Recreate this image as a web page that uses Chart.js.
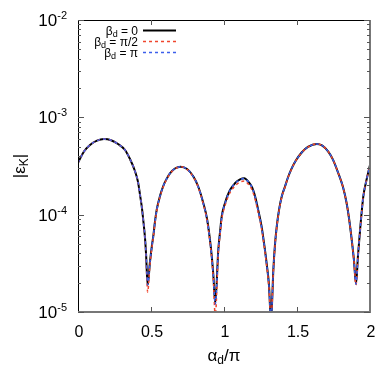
<!DOCTYPE html>
<html>
<head>
<meta charset="utf-8">
<script src="https://cdn.jsdelivr.net/npm/chart.js@4"></script>
<style>
  html, body { margin: 0; padding: 0; background: #fff; }
  #wrap { width: 382px; height: 366px; }
</style>
</head>
<body>
<div id="wrap"><canvas id="epsK" width="382" height="366"></canvas></div>
<script>
// alpha_d / pi sample positions
const alpha = [0.000, 0.041, 0.082, 0.130, 0.178, 0.226, 0.274, 0.322, 0.356, 0.390,
  0.411, 0.425, 0.438, 0.447, 0.459, 0.466, 0.477, 0.493, 0.507, 0.516,
  0.527, 0.539, 0.562, 0.584, 0.606, 0.630, 0.664, 0.703, 0.747, 0.790,
  0.822, 0.858, 0.884, 0.904, 0.918, 0.927, 0.940, 0.961, 0.973, 0.984,
  1.007, 1.041, 1.075, 1.110, 1.139, 1.171, 1.192, 1.212, 1.233, 1.258,
  1.274, 1.292, 1.308, 1.322, 1.338, 1.349, 1.361, 1.377, 1.395, 1.418,
  1.438, 1.459, 1.486, 1.532, 1.575, 1.635, 1.671, 1.714, 1.747, 1.783,
  1.815, 1.840, 1.856, 1.875, 1.890, 1.904, 1.918, 1.932, 1.954, 1.976,
  2.000];

// |eps_K| for beta_d = 0
const beta0 = [3.42e-4, 4.45e-4, 5.2e-4, 5.76e-4, 5.98e-4, 5.82e-4, 5.32e-4, 4.62e-4, 3.73e-4, 2.81e-4,
  2.17e-4, 1.59e-4, 1.17e-4, 8.81e-5, 5.75e-5, 3.97e-5, 1.89e-5, 3.27e-5, 4.88e-5, 6.04e-5,
  8.41e-5, 1.12e-4, 1.56e-4, 1.97e-4, 2.32e-4, 2.66e-4, 2.98e-4, 3.11e-4, 2.94e-4, 2.47e-4,
  1.97e-4, 1.32e-4, 9.02e-5, 5.5e-5, 3.5e-5, 2.4e-5, 1.23e-5, 4.34e-5, 6.64e-5, 9.5e-5,
  1.32e-4, 1.79e-4, 2.10e-4, 2.30e-4, 2.36e-4, 2.14e-4, 1.92e-4, 1.56e-4, 1.14e-4, 7.5e-5,
  5.12e-5, 3.16e-5, 1.89e-5, 8e-6, 2.70e-5, 4.88e-5, 7.5e-5, 1.12e-4, 1.53e-4, 1.95e-4,
  2.41e-4, 2.88e-4, 3.48e-4, 4.35e-4, 4.96e-4, 5.32e-4, 5.14e-4, 4.44e-4, 3.65e-4, 2.66e-4,
  1.92e-4, 1.31e-4, 9.24e-5, 5.5e-5, 3.42e-5, 1.94e-5, 3.85e-5, 6.95e-5, 1.53e-4, 2.27e-4,
  3.24e-4];

// beta_d = pi/2
const betaHalfPi = [3.42e-4, 4.45e-4, 5.2e-4, 5.76e-4, 5.98e-4, 5.82e-4, 5.32e-4, 4.62e-4, 3.73e-4, 2.81e-4,
  2.17e-4, 1.59e-4, 1.17e-4, 8.8e-5, 5.6e-5, 3.8e-5, 1.6e-5, 3.1e-5, 4.7e-5, 5.85e-5,
  8.2e-5, 1.09e-4, 1.53e-4, 1.94e-4, 2.29e-4, 2.63e-4, 2.96e-4, 3.1e-4, 2.92e-4, 2.44e-4,
  1.94e-4, 1.29e-4, 8.7e-5, 5.25e-5, 3.3e-5, 2.2e-5, 9e-6, 4.1e-5, 6.2e-5, 8.9e-5,
  1.24e-4, 1.68e-4, 1.97e-4, 2.16e-4, 2.22e-4, 2.02e-4, 1.80e-4, 1.46e-4, 1.07e-4, 7.1e-5,
  4.9e-5, 3.0e-5, 1.8e-5, 8e-6, 2.6e-5, 4.75e-5, 7.3e-5, 1.1e-4, 1.5e-4, 1.93e-4,
  2.39e-4, 2.86e-4, 3.46e-4, 4.34e-4, 4.95e-4, 5.32e-4, 5.14e-4, 4.44e-4, 3.65e-4, 2.66e-4,
  1.92e-4, 1.31e-4, 9.2e-5, 5.45e-5, 3.4e-5, 1.9e-5, 3.8e-5, 6.9e-5, 1.52e-4, 2.26e-4,
  3.22e-4];

// beta_d = pi
const betaPi = [3.42e-4, 4.45e-4, 5.2e-4, 5.76e-4, 5.98e-4, 5.82e-4, 5.32e-4, 4.62e-4, 3.73e-4, 2.81e-4,
  2.17e-4, 1.59e-4, 1.17e-4, 8.81e-5, 5.75e-5, 3.97e-5, 1.9e-5, 3.27e-5, 4.88e-5, 6.04e-5,
  8.41e-5, 1.12e-4, 1.56e-4, 1.97e-4, 2.32e-4, 2.66e-4, 2.98e-4, 3.11e-4, 2.94e-4, 2.46e-4,
  1.96e-4, 1.31e-4, 8.9e-5, 5.4e-5, 3.45e-5, 2.35e-5, 1.2e-5, 4.3e-5, 6.6e-5, 9.4e-5,
  1.31e-4, 1.78e-4, 2.09e-4, 2.29e-4, 2.35e-4, 2.13e-4, 1.91e-4, 1.55e-4, 1.13e-4, 7.4e-5,
  5.1e-5, 3.1e-5, 1.87e-5, 8e-6, 2.70e-5, 4.88e-5, 7.5e-5, 1.12e-4, 1.53e-4, 1.95e-4,
  2.41e-4, 2.88e-4, 3.48e-4, 4.35e-4, 4.96e-4, 5.32e-4, 5.14e-4, 4.44e-4, 3.65e-4, 2.66e-4,
  1.92e-4, 1.31e-4, 9.24e-5, 5.5e-5, 3.42e-5, 1.94e-5, 3.85e-5, 6.95e-5, 1.53e-4, 2.27e-4,
  3.24e-4];

const xTicks = [0, 0.5, 1, 1.5, 2];
const xTickLabels = ['0', '0.5', '1', '1.5', '2'];
const yDecades = [-5, -4, -3, -2];

const legendItems = [
  { name: 'β', sub: 'd', rest: ' = 0', color: '#000', dash: [] },
  { name: 'β', sub: 'd', rest: ' = π/2', color: 'rgb(240,70,45)', dash: [3, 3] },
  { name: 'β', sub: 'd', rest: ' = π', color: 'rgb(60,95,235)', dash: [3, 3] }
];

const FONT = '"Liberation Sans", Arial, Helvetica, sans-serif';

function pts(ys) {
  return alpha.map((a, i) => ({ x: a, y: ys[i] }));
}

const framePlugin = {
  id: 'frame',
  afterDatasetsDraw(chart) {
    const ctx = chart.ctx;
    const a = chart.chartArea;
    const xs = chart.scales.x, ys = chart.scales.y;
    ctx.save();

    // frame
    ctx.strokeStyle = '#000';
    ctx.lineWidth = 1;
    ctx.beginPath();
    ctx.moveTo(a.left + 0.5, a.bottom);
    ctx.lineTo(a.left + 0.5, a.top + 0.5);
    ctx.lineTo(a.right, a.top + 0.5);
    ctx.stroke();
    ctx.strokeStyle = '#777';
    ctx.lineWidth = 2;
    ctx.beginPath();
    ctx.moveTo(a.left, a.bottom);
    ctx.lineTo(a.right, a.bottom);
    ctx.lineTo(a.right, a.top);
    ctx.stroke();

    // x ticks (inward, bottom and top)
    ctx.strokeStyle = '#555';
    ctx.lineWidth = 1;
    ctx.beginPath();
    xTicks.forEach(v => {
      const px = Math.round(xs.getPixelForValue(v)) + 0.5;
      if (v > 0 && v < 2) {
        ctx.moveTo(px, a.bottom); ctx.lineTo(px, a.bottom - 5);
        ctx.moveTo(px, a.top); ctx.lineTo(px, a.top + 5);
      }
    });
    // y ticks (log, major + minor, left and right)
    yDecades.forEach(d => {
      for (let m = 1; m <= 9; m++) {
        const v = m * Math.pow(10, d);
        if (v > 1e-2 * 1.0001) continue;
        const py = Math.round(ys.getPixelForValue(v)) + 0.5;
        const len = m === 1 ? 6 : 3;
        ctx.moveTo(a.left, py); ctx.lineTo(a.left + len, py);
        ctx.moveTo(a.right, py); ctx.lineTo(a.right - len, py);
      }
    });
    ctx.stroke();

    // x tick labels
    ctx.fillStyle = '#000';
    ctx.font = '16px ' + FONT;
    ctx.textAlign = 'center';
    ctx.textBaseline = 'alphabetic';
    xTicks.forEach((v, i) => {
      ctx.fillText(xTickLabels[i], xs.getPixelForValue(v) + 1, a.bottom + 25);
    });

    // y tick labels 10^n
    yDecades.forEach(d => {
      const py = ys.getPixelForValue(Math.pow(10, d));
      const exp = String(d);
      ctx.font = '11px ' + FONT;
      const ew = ctx.measureText(exp).width;
      ctx.textAlign = 'right';
      ctx.fillText(exp, 67, py - 1);
      ctx.font = '17px ' + FONT;
      ctx.fillText('10', 67 - ew, py + 6);
    });

    // x title alpha_d/pi
    ctx.textAlign = 'left';
    ctx.font = '17px ' + FONT;
    const wA = ctx.measureText('α').width;
    ctx.font = '12px ' + FONT;
    const wD = ctx.measureText('d').width;
    ctx.font = '17px ' + FONT;
    const wP = ctx.measureText('/π').width;
    let tx = (a.left + a.right) / 2 - (wA + wD + wP) / 2;
    ctx.fillText('α', tx, 361);
    ctx.font = '12px ' + FONT;
    ctx.fillText('d', tx + wA, 364);
    ctx.font = '17px ' + FONT;
    ctx.fillText('/π', tx + wA + wD, 361);

    // y title |eps_K|
    ctx.save();
    ctx.translate(25, (a.top + a.bottom) / 2);
    ctx.rotate(-Math.PI / 2);
    ctx.font = '17px ' + FONT;
    const w1 = ctx.measureText('|ε').width;
    ctx.font = '12px ' + FONT;
    const w2 = ctx.measureText('K').width;
    ctx.font = '17px ' + FONT;
    const w3 = ctx.measureText('|').width;
    let ty = -(w1 + w2 + w3) / 2;
    ctx.fillText('|ε', ty, 0);
    ctx.font = '12px ' + FONT;
    ctx.fillText('K', ty + w1, 3);
    ctx.font = '17px ' + FONT;
    ctx.fillText('|', ty + w1 + w2, 0);
    ctx.restore();

    // legend
    legendItems.forEach((it, i) => {
      const ly = 30.5 + i * 11;
      ctx.font = '12px ' + FONT;
      const wr = ctx.measureText(it.rest).width;
      ctx.font = '9px ' + FONT;
      const ws = ctx.measureText(it.sub).width;
      ctx.font = '12px ' + FONT;
      const wb = ctx.measureText(it.name).width;
      const right = 138;
      ctx.textAlign = 'left';
      ctx.fillText(it.rest, right - wr, ly + 4);
      ctx.font = '9px ' + FONT;
      ctx.fillText(it.sub, right - wr - ws, ly + 6);
      ctx.font = '12px ' + FONT;
      ctx.fillText(it.name, right - wr - ws - wb, ly + 4);
      ctx.strokeStyle = it.color;
      ctx.lineWidth = it.dash.length ? 1.3 : 2;
      ctx.setLineDash(it.dash);
      ctx.beginPath();
      ctx.moveTo(143, ly);
      ctx.lineTo(176, ly);
      ctx.stroke();
      ctx.setLineDash([]);
    });

    ctx.restore();
  }
};

new Chart(document.getElementById('epsK'), {
  type: 'line',
  data: {
    datasets: [
      {
        label: 'beta_d = 0',
        data: pts(beta0),
        borderColor: '#000',
        borderWidth: 2,
        pointRadius: 0,
        cubicInterpolationMode: 'monotone',
        order: 3
      },
      {
        label: 'beta_d = pi/2',
        data: pts(betaHalfPi),
        borderColor: 'rgb(240,70,45)',
        borderWidth: 1.5,
        borderDash: [3, 3],
        pointRadius: 0,
        cubicInterpolationMode: 'monotone',
        order: 2
      },
      {
        label: 'beta_d = pi',
        data: pts(betaPi),
        borderColor: 'rgb(60,95,235)',
        borderWidth: 1.5,
        borderDash: [3, 3],
        pointRadius: 0,
        cubicInterpolationMode: 'monotone',
        order: 1
      }
    ]
  },
  options: {
    responsive: false,
    animation: false,
    devicePixelRatio: 1,
    layout: { padding: { left: 78, right: 12, top: 20, bottom: 54 } },
    plugins: { legend: { display: false }, tooltip: { enabled: false } },
    scales: {
      x: { type: 'linear', min: 0, max: 2, display: false },
      y: { type: 'logarithmic', min: 1e-5, max: 1e-2, display: false }
    }
  },
  plugins: [framePlugin]
});
</script>
</body>
</html>
